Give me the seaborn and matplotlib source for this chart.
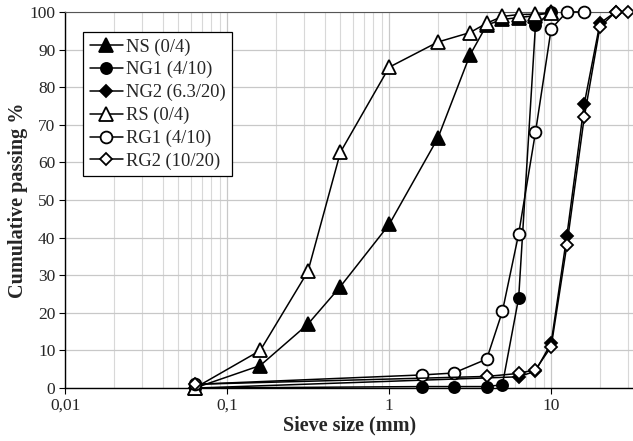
import matplotlib
matplotlib.use('Agg')
import matplotlib.pyplot as plt
import matplotlib.ticker as mticker
import pandas as pd
import seaborn as sns

# sieve sizes (mm) and cumulative passing (%) per material
ns_size = [0.063, 0.16, 0.315, 0.5, 1, 2, 3.15, 4, 5, 6.3, 8, 10]
ns_pass = [0, 6, 17, 27, 43.5, 66.5, 88.5, 96.5, 98, 98.5, 99, 100]

ng1_size = [0.063, 1.6, 2.5, 4, 5, 6.3, 8, 10]
ng1_pass = [0, 0.4, 0.4, 0.4, 0.9, 24, 96.5, 100]

ng2_size = [0.063, 6.3, 8, 10, 12.5, 16, 20, 25]
ng2_pass = [0, 3, 4.5, 12, 40.5, 75.5, 97, 100]

rs_size = [0.063, 0.16, 0.315, 0.5, 1, 2, 3.15, 4, 5, 6.3, 8, 10]
rs_pass = [0, 10, 31, 62.7, 85.3, 92, 94.5, 97, 98.8, 99.3, 99.4, 99.6]

rg1_size = [0.063, 1.6, 2.5, 4, 5, 6.3, 8, 10, 12.5, 16]
rg1_pass = [1, 3.5, 4, 7.7, 20.4, 41, 68, 95.5, 100, 100]

rg2_size = [0.063, 4, 6.3, 8, 10, 12.5, 16, 20, 25, 30]
rg2_pass = [1, 3.1, 3.9, 4.9, 11, 38, 72, 96, 100, 100]

labels = ['NS (0/4)', 'NG1 (4/10)', 'NG2 (6.3/20)', 'RS (0/4)', 'RG1 (4/10)', 'RG2 (10/20)']
sizes = [ns_size, ng1_size, ng2_size, rs_size, rg1_size, rg2_size]
passing = [ns_pass, ng1_pass, ng2_pass, rs_pass, rg1_pass, rg2_pass]

markers = ['^', 'o', 'D', '^', 'o', 'D']
faces = ['black', 'black', 'black', 'white', 'white', 'white']
msizes = [9.5, 8, 6.5, 9.5, 8.5, 6.5]

sns.set_style('white')
plt.rcParams['font.family'] = ['Liberation Serif', 'DejaVu Serif']

fig = plt.figure(figsize=(6.33, 4.41), dpi=100)
ax = fig.add_axes([0.103, 0.12, 0.897, 0.853])

for lab, x, y, m, fc, ms in zip(labels, sizes, passing, markers, faces, msizes):
    df = pd.DataFrame({'size': x, 'passing': y})
    sns.lineplot(data=df, x='size', y='passing', ax=ax, color='black', lw=1.1,
                 marker=m, markersize=ms, markerfacecolor=fc, markeredgecolor='black',
                 markeredgewidth=1.3, label=lab, clip_on=False, zorder=3)

ax.set_xscale('log')
ax.set_xlim(0.01, 32)
ax.set_ylim(0, 100)
ax.set_yticks(range(0, 101, 10))
ax.set_xticks([0.01, 0.1, 1, 10])
ax.xaxis.set_major_formatter(mticker.FixedFormatter(['0,01', '0,1', '1', '10']))
ax.xaxis.set_minor_locator(mticker.LogLocator(base=10, subs=range(2, 10), numticks=20))
ax.xaxis.set_minor_formatter(mticker.NullFormatter())

ax.grid(True, which='major', color='#c8c8c8', lw=0.9)
ax.grid(True, which='minor', axis='x', color='#d8d8d8', lw=0.8)
ax.set_axisbelow(True)

for s in ['left', 'bottom']:
    ax.spines[s].set_color('black')
    ax.spines[s].set_linewidth(1.0)
ax.spines['top'].set_color('#555555')
ax.spines['right'].set_visible(False)

ax.tick_params(axis='both', which='major', labelsize=12.5, length=4, color='black',
               direction='out', bottom=True, left=True, pad=3)
ax.tick_params(axis='x', which='minor', length=0)

ax.set_xlabel('Sieve size (mm)', fontsize=14.5, fontweight='bold', labelpad=1)
ax.set_ylabel('Cumulative passing %', fontsize=14.5, fontweight='bold', labelpad=1)

leg = ax.legend(loc='upper left', bbox_to_anchor=(0.032, 0.947), fontsize=13.3,
                frameon=True, fancybox=False, framealpha=1, edgecolor='black',
                handlelength=1.8, handletextpad=0.15, labelspacing=0.3, borderpad=0.35,
                borderaxespad=0)
leg.get_frame().set_linewidth(0.9)

fig.savefig('out.png', dpi=100)
